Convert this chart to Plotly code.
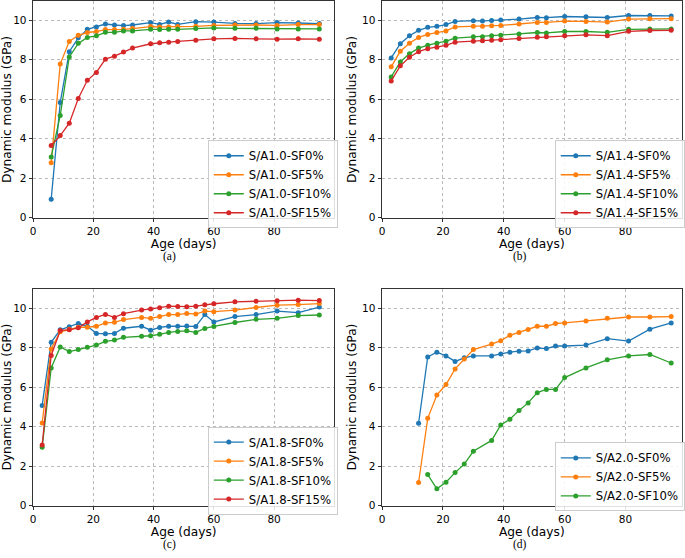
import plotly.graph_objects as go

# ---------------- data ----------------
age_a = [6, 9, 12, 15, 18, 21, 24, 27, 30, 33, 39, 42, 45, 48, 54, 60, 67, 74, 81, 88, 95]
a_sf0 = [0.93, 5.83, 8.40, 9.10, 9.53, 9.65, 9.80, 9.75, 9.72, 9.75, 9.87, 9.78, 9.90, 9.78, 9.92, 9.90, 9.83, 9.82, 9.87, 9.85, 9.82]
a_sf5 = [2.77, 7.77, 8.92, 9.23, 9.37, 9.42, 9.52, 9.52, 9.53, 9.57, 9.67, 9.65, 9.65, 9.67, 9.68, 9.73, 9.75, 9.75, 9.73, 9.77, 9.77]
a_sf10 = [3.07, 5.17, 8.13, 8.82, 9.12, 9.20, 9.38, 9.38, 9.45, 9.45, 9.53, 9.52, 9.53, 9.53, 9.57, 9.60, 9.58, 9.58, 9.55, 9.55, 9.55]
a_sf15 = [3.65, 4.15, 4.78, 6.03, 6.95, 7.35, 8.02, 8.17, 8.38, 8.58, 8.80, 8.85, 8.88, 8.92, 8.98, 9.05, 9.07, 9.05, 9.03, 9.05, 9.03]

age_b = [3, 6, 9, 12, 15, 18, 21, 24, 30, 33, 36, 39, 45, 51, 54, 60, 67, 74, 81, 88, 95]
b_sf0 = [8.08, 8.80, 9.21, 9.48, 9.63, 9.68, 9.77, 9.93, 9.97, 9.95, 9.98, 10.00, 10.05, 10.13, 10.12, 10.18, 10.17, 10.13, 10.23, 10.23, 10.21]
b_sf5 = [7.63, 8.42, 8.83, 9.12, 9.27, 9.37, 9.45, 9.65, 9.68, 9.68, 9.71, 9.73, 9.80, 9.88, 9.88, 9.95, 9.93, 9.90, 10.05, 10.07, 10.07]
b_sf10 = [7.12, 7.88, 8.30, 8.58, 8.73, 8.83, 8.93, 9.08, 9.15, 9.15, 9.20, 9.23, 9.30, 9.37, 9.35, 9.42, 9.42, 9.38, 9.53, 9.55, 9.55]
b_sf15 = [6.92, 7.68, 8.12, 8.40, 8.55, 8.62, 8.72, 8.88, 8.93, 8.95, 8.98, 9.00, 9.07, 9.13, 9.15, 9.21, 9.25, 9.21, 9.43, 9.47, 9.48]

age_c = [3, 6, 9, 12, 15, 18, 21, 24, 27, 30, 36, 39, 42, 45, 48, 51, 54, 57, 60, 67, 74, 81, 88, 95]
c_sf0 = [5.07, 8.27, 8.90, 9.05, 9.22, 9.08, 8.72, 8.70, 8.72, 8.98, 9.08, 8.88, 9.02, 9.08, 9.08, 9.10, 9.07, 9.67, 9.30, 9.57, 9.67, 9.85, 9.77, 10.05]
c_sf5 = [4.18, 7.93, 8.80, 8.93, 9.03, 9.03, 9.08, 9.25, 9.28, 9.42, 9.53, 9.48, 9.58, 9.67, 9.67, 9.73, 9.70, 9.85, 9.82, 9.90, 10.03, 10.15, 10.18, 10.23]
c_sf10 = [2.95, 6.97, 8.03, 7.80, 7.90, 8.02, 8.13, 8.32, 8.38, 8.52, 8.58, 8.60, 8.67, 8.77, 8.82, 8.85, 8.77, 8.97, 9.07, 9.27, 9.43, 9.48, 9.62, 9.65]
c_sf15 = [3.07, 7.60, 8.87, 8.90, 9.00, 9.30, 9.53, 9.68, 9.53, 9.72, 9.90, 9.95, 10.02, 10.10, 10.08, 10.07, 10.10, 10.17, 10.22, 10.32, 10.35, 10.37, 10.40, 10.38]

age_d0 = [12, 15, 18, 21, 24, 27, 30, 36, 39, 42, 45, 48, 51, 54, 57, 60, 67, 74, 81, 88, 95]
d_sf0 = [4.17, 7.53, 7.77, 7.58, 7.30, 7.48, 7.58, 7.58, 7.68, 7.77, 7.82, 7.83, 7.98, 7.95, 8.08, 8.08, 8.13, 8.45, 8.33, 8.93, 9.25]
d_sf5 = [1.17, 4.42, 5.60, 6.13, 6.92, 7.42, 7.90, 8.18, 8.35, 8.62, 8.77, 8.92, 9.08, 9.08, 9.22, 9.25, 9.35, 9.48, 9.55, 9.55, 9.57]
age_d10 = [15, 18, 21, 24, 27, 30, 36, 39, 42, 45, 48, 51, 54, 57, 60, 67, 74, 81, 88, 95]
d_sf10 = [1.57, 0.85, 1.18, 1.67, 2.10, 2.75, 3.30, 4.08, 4.37, 4.82, 5.20, 5.72, 5.88, 5.88, 6.48, 6.97, 7.38, 7.58, 7.65, 7.22]

colors = ["#1f77b4", "#ff7f0e", "#2ca02c", "#d62728"]
sf_labels = ["SF0%", "SF5%", "SF10%", "SF15%"]

panels = [
    ("S/A1.0", age_a, [a_sf0, a_sf5, a_sf10, a_sf15], "x", "y", "legend"),
    ("S/A1.4", age_b, [b_sf0, b_sf5, b_sf10, b_sf15], "x2", "y2", "legend2"),
    ("S/A1.8", age_c, [c_sf0, c_sf5, c_sf10, c_sf15], "x3", "y3", "legend3"),
    ("S/A2.0", [age_d0, age_d0, age_d10], [d_sf0, d_sf5, d_sf10], "x4", "y4", "legend4"),
]

W, H = 685, 558
fig = go.Figure()

for prefix, ages, series, xa, ya, lg in panels:
    for i, vals in enumerate(series):
        xs = ages[i] if isinstance(ages[0], list) else ages
        fig.add_trace(go.Scatter(
            x=xs, y=vals, mode="lines+markers",
            name=f"{prefix}-{sf_labels[i]}",
            line=dict(color=colors[i], width=1.3),
            marker=dict(color=colors[i], size=5),
            xaxis=xa, yaxis=ya, legend=lg,
        ))

def px_x(p):
    return p / W

def px_y(p):
    return 1 - p / H

tick_font = dict(family="DejaVu Sans", size=10.5, color="#000000")
title_font = dict(family="DejaVu Sans", size=12.2, color="#000000")

# axes geometry (pixel based)
left_x = (30.3, 333.3, 100.0)
right_x = (381.3, 682.5, 98.4)
top_y = (0.5, 219.3)
bot_y = (291.3, 511.0)

axis_specs = [
    ("xaxis", "yaxis", left_x, top_y, "y", "x"),
    ("xaxis2", "yaxis2", right_x, top_y, "y2", "x2"),
    ("xaxis3", "yaxis3", left_x, bot_y, "y3", "x3"),
    ("xaxis4", "yaxis4", right_x, bot_y, "y4", "x4"),
]

common = dict(
    showgrid=True, gridcolor="#b9b9b9", griddash="dot", gridwidth=0.8,
    showline=True, linecolor="#333333", linewidth=1, mirror=True,
    ticks="outside", ticklen=3.5, tickwidth=0.8, tickcolor="#333333",
    tickfont=tick_font, zeroline=False,
)

layout = {}
for xname, yname, xg, yg, yref, xref in axis_specs:
    x0, x1, xmax = xg
    ytop, ybot = yg
    ymax = (ybot - ytop) / 20.0
    layout[xname] = dict(
        domain=[px_x(x0), px_x(x1)], range=[0, xmax], anchor=yref,
        tickvals=[0, 20, 40, 60, 80],
        title=dict(text="Age (days)", font=title_font, standoff=2),
        **common,
    )
    layout[yname] = dict(
        domain=[px_y(ybot), px_y(ytop)], range=[0, ymax], anchor=xref,
        tickvals=[0, 2, 4, 6, 8, 10],
        title=dict(text="Dynamic modulus (GPa)", font=title_font, standoff=2),
        **common,
    )

legend_common = dict(
    font=dict(family="DejaVu Sans", size=11.7, color="#000000"),
    bgcolor="rgba(255,255,255,0.85)", bordercolor="#cccccc", borderwidth=1,
    xanchor="left", yanchor="top", itemwidth=30, tracegroupgap=0,
)
layout["legend"] = dict(x=px_x(206), y=px_y(141), **legend_common)
layout["legend2"] = dict(x=px_x(555), y=px_y(141), **legend_common)
layout["legend3"] = dict(x=px_x(206), y=px_y(431), **legend_common)
layout["legend4"] = dict(x=px_x(555), y=px_y(447), **legend_common)

captions = [("(a)", 167, 259), ("(b)", 520, 259), ("(c)", 167, 550), ("(d)", 520, 550)]
annotations = [
    dict(text=t, x=px_x(cx), y=px_y(cy), xref="paper", yref="paper",
         showarrow=False, xanchor="center", yanchor="middle",
         font=dict(family="Liberation Serif", size=11.5, color="#000000"))
    for t, cx, cy in captions
]

fig.update_layout(
    width=W, height=H,
    margin=dict(l=0, r=0, t=0, b=0),
    paper_bgcolor="white", plot_bgcolor="white",
    showlegend=True,
    annotations=annotations,
    **layout,
)

fig.write_html(
    "out.html",
    config={"displayModeBar": False},
    post_script="document.body.style.margin='0';document.body.style.overflow='hidden';",
)
